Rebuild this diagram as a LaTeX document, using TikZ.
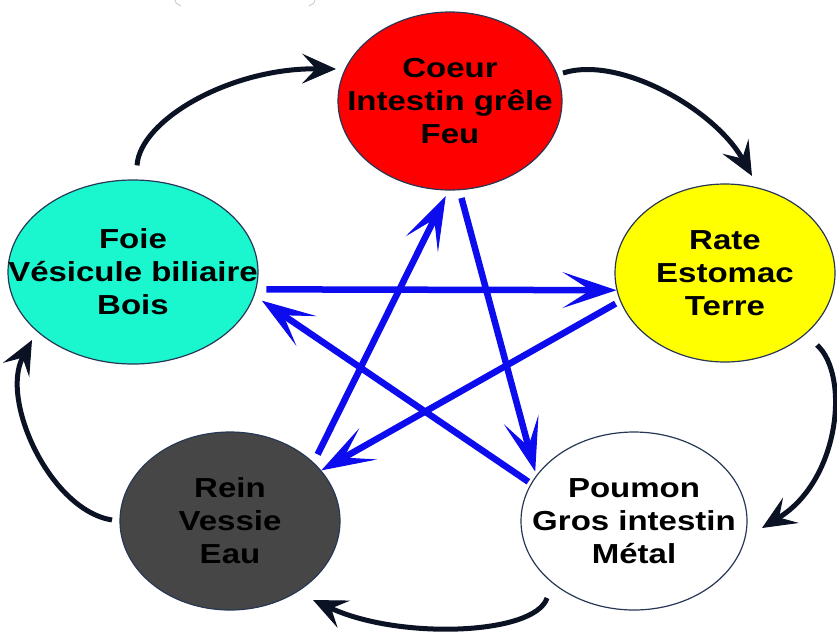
\documentclass[tikz,border=0pt]{standalone}
\usepackage{fontspec}
\newfontfamily\lab{Liberation Sans}[FakeStretch=1.2]
\usetikzlibrary{shapes.geometric,arrows.meta,calc}
\definecolor{fire}{RGB}{254,0,0}
\definecolor{wood}{RGB}{26,246,206}
\definecolor{earth}{RGB}{255,255,0}
\definecolor{water}{RGB}{70,70,70}
\definecolor{edge}{RGB}{40,55,85}
\definecolor{starblue}{RGB}{12,12,238}
\definecolor{ink}{RGB}{10,18,36}
\begin{document}
\begin{tikzpicture}[x=1pt,y=-1pt,
  organ/.style={ellipse, draw=edge, line width=1.2pt, inner sep=0pt},
  organtext/.style={align=center, inner sep=0pt,
    font=\lab\bfseries\fontsize{27.5}{33}\selectfont},
  starline/.style={draw=starblue, line width=6.5pt,
    -{Stealth[length=54pt,width=36pt,inset=28pt,line width=1pt]}},
  cycline/.style={draw=ink, line width=5pt,
    -{Stealth[length=34pt,width=30pt,inset=14pt,line width=1pt]}}]
\useasboundingbox (0,0) rectangle (837,635);

% faint cut-off marks at the top
\draw[gray!45, line width=0.8pt] (175,0) .. controls (175.5,3) .. (181,6);
\draw[gray!45, line width=0.8pt] (315,0) .. controls (314.5,3) .. (309,6);

% organs
\node[organ, fill=fire, minimum width=224pt, minimum height=178pt,
  label={[organtext]center:Coeur\\Intestin grêle\\Feu}] (coeur) at (450,101) {};
\node[organ, fill=wood, minimum width=250pt, minimum height=184pt,
  label={[organtext]center:Foie\\Vésicule biliaire\\Bois}] (foie) at (133,272) {};
\node[organ, fill=earth, minimum width=220pt, minimum height=178pt,
  label={[organtext]center:Rate\\Estomac\\Terre}] (rate) at (725,273) {};
\node[organ, fill=water, minimum width=220pt, minimum height=178pt,
  label={[organtext]center:Rein\\Vessie\\Eau}] (rein) at (230,521) {};
\node[organ, fill=white, minimum width=226pt, minimum height=178pt,
  label={[organtext]center:Poumon\\Gros intestin\\Métal}] (poumon) at (634,521) {};

% star (control cycle)
\draw[starline, shorten <=10pt] (foie.-8) -- (rate.-171);
\draw[starline, shorten <=5pt] (rate.-165) -- (rein.29);
\draw[starline, shorten <=9pt, shorten >=6pt] (rein.35) -- (coeur.-91);
\draw[starline, shorten <=8pt, shorten >=4pt] (coeur.-84) -- (poumon.155);
\draw[starline, shorten <=3pt, shorten >=9pt] (poumon.160) -- (foie.-11);

% generating cycle
\draw[cycline] ($(foie.north)+(4,-14)$) .. controls (140,120) and (230,68) .. ($(coeur.center)+(-114,-32)$);
\draw[cycline] ($(coeur.center)+(113,-28)$) .. controls (620,55) and (715,110) .. ($(rate.center)+(27,-97)$);
\draw[cycline] ($(rate.center)+(92,72)$) .. controls (850,375) and (840,480) .. ($(poumon.center)+(128,7)$);
\draw[cycline] ($(poumon.center)+(-87,77)$) .. controls (535,635) and (400,640) .. ($(rein.center)+(83,79)$);
\draw[cycline] ($(rein.center)+(-118,-1)$) .. controls (50,510) and (0,400) .. ($(foie.center)+(-101,68)$);
\end{tikzpicture}
\end{document}
